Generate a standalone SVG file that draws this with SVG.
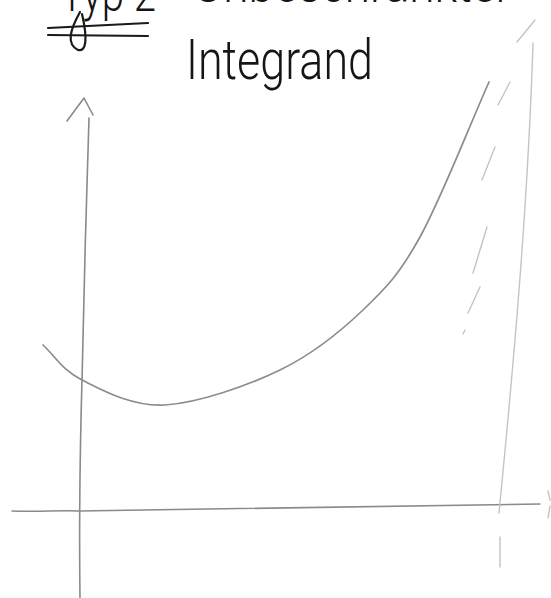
<svg xmlns="http://www.w3.org/2000/svg" width="551" height="598" viewBox="0 0 551 598">
<style>
.txt{font-family:Roboto,"Liberation Sans",sans-serif;font-weight:300;fill:#151515}
.ax{fill:none;stroke:#8a8a8a;stroke-width:1.6;stroke-linecap:round;stroke-linejoin:round}
.faint{fill:none;stroke:#c4c4c4;stroke-width:1.4;stroke-linecap:round}
.curve{fill:none;stroke:#8c8c8c;stroke-width:1.7;stroke-linecap:round}
.ul{fill:none;stroke:#1a1a1a;stroke-width:2.2;stroke-linecap:round}
</style>
<rect width="551" height="598" fill="#ffffff"/>
<g id="title">
  <text class="txt" x="60" y="11" font-size="50" textLength="96" lengthAdjust="spacingAndGlyphs">Typ 2</text>
  <path class="ul" d="M48 28 L148 23 M48 35 L148 36"/>
  <path class="ul" d="M80 12 C70 30 66 44 78 50 C86 52 88 40 82 14"/>
  <text class="txt" x="193" y="2" font-size="50" textLength="318" lengthAdjust="spacingAndGlyphs">Unbeschränkter</text>
  <text class="txt" x="186" y="79" font-size="56" textLength="187" lengthAdjust="spacingAndGlyphs">Integrand</text>
</g>
<g id="y-axis">
  <path class="ax" d="M89 118 C86 200 84 300 82 380 C80 450 79 520 80 598"/>
  <path class="ax" d="M67 121 L84 98 L93 115"/>
</g>
<g id="x-axis">
  <path class="ax" d="M12 511 C40 512 60 510 79 511 C250 508 400 505 540 504"/>
  <path class="faint" d="M548 491 L550 500 M550 506 L548 518"/>
</g>
<g id="right-line">
  <path class="faint" d="M533 43 C528 200 515 350 499 513"/>
  <path class="faint" d="M517 42 L535 20"/>
  <path class="faint" d="M500 537 L500 567"/>
  <path class="faint" d="M510 82 L498 105 M495 147 L482 180 M487 227 L473 273 M480 287 L468 313 M465 330 L463 334"/>
</g>
<g id="curve">
  <path class="curve" d="M43 345 C56 357 62 370 82 380 C102 390 132 407 165 405 C198 403 247 386 280 370 C313 354 340 332 363 310 C386 288 399 275 420 237 C441 199 466 134 489 82"/>
</g>
</svg>
